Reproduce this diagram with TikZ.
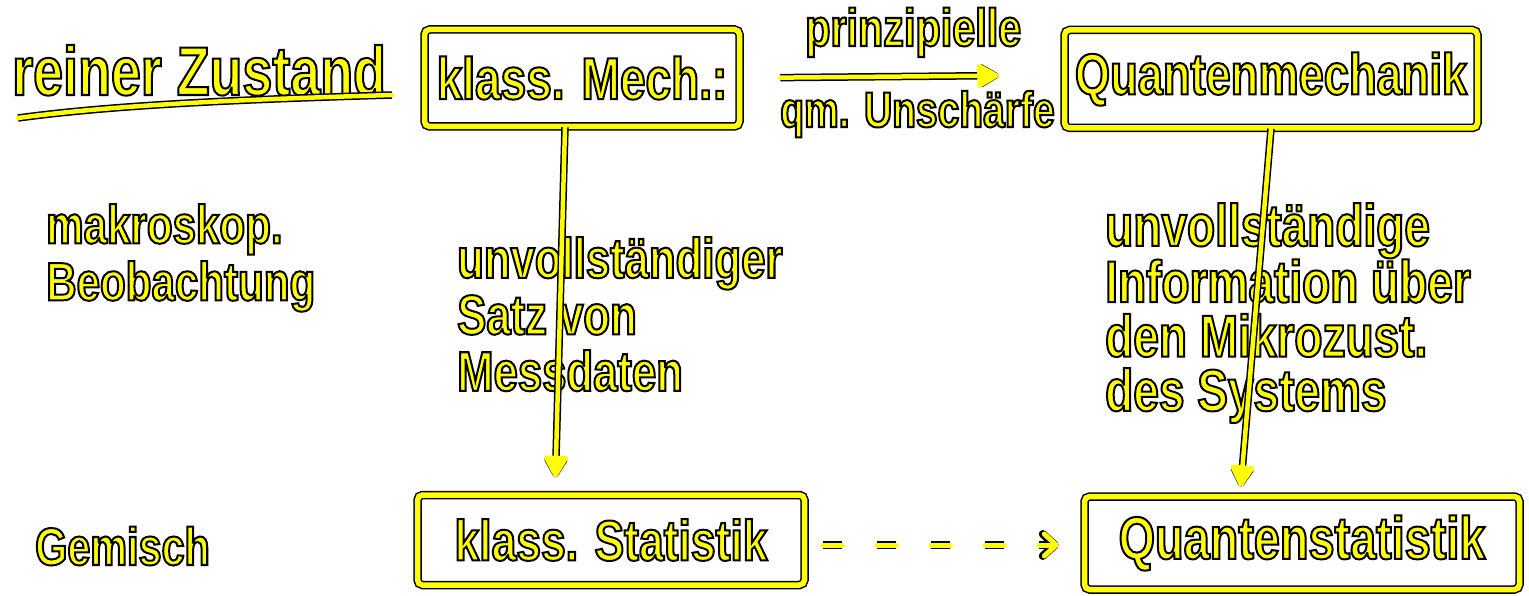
\documentclass[tikz,border=0pt]{standalone}
\usepackage{fontspec}
\usetikzlibrary{arrows.meta}
\newfontfamily\hand{Liberation Sans Bold}[FakeStretch=0.78]
\definecolor{hy}{RGB}{255,255,0}
\newcommand\ON{\special{pdf:literal direct 0 0 0 RG 2 Tr 2 w}}
\newcommand\OFF{\special{pdf:literal direct 0 Tr}}
\newcommand\T[2]{{\fontsize{#1}{#1}\selectfont\ON#2\OFF}}
\tikzset{
  txt/.style={text=hy, inner sep=0pt, font=\hand},
  blk/.style 2 args={txt, align=left, anchor=north west, font={\hand\fontsize{#1}{#2}\selectfont}},
  box/.style={txt, draw=black, double=hy, double distance=5.5pt, line width=1.5pt, rounded corners=5pt},
  ink/.style={draw=hy, line width=4.5pt, line cap=round, line join=round,
              preaction={draw=black, line width=7.5pt}},
  arr/.style={draw=hy, line width=4.5pt, line cap=round, line join=round,
              -{Triangle[length=24pt,width=26pt,round]},
              preaction={draw=black, line width=7.5pt, -{Triangle[length=24pt,width=26pt,round]}}},
  dsh/.style={draw=hy, line width=5pt, line cap=round, line join=round,
              dash pattern=on 19pt off 35pt,
              -{Straight Barb[length=12pt,width=22pt,round]},
              preaction={draw=black, line width=8pt, dash pattern=on 19pt off 35pt,
                         -{Straight Barb[length=12pt,width=22pt,round]}}}
}
\begin{document}
\begin{tikzpicture}[x=1pt,y=-1pt]
\useasboundingbox (0,0) rectangle (1529,596);
% boxes
\node[box, minimum width=315pt, minimum height=97pt] (mech) at (582,78) {\T{59}{klass. Mech.:}};
\node[box, minimum width=413pt, minimum height=98pt] (qm) at (1271,79) {\T{58}{Quantenmechanik}};
\node[box, minimum width=387pt, minimum height=90pt] (stat) at (611,540) {\T{57}{klass. Statistik}};
\node[box, minimum width=435pt, minimum height=93pt] (qs) at (1302,543) {\T{60}{Quantenstatistik}};
% free texts
\node[txt, anchor=base west] (rz) at (12,95) {\T{69}{reiner Zustand}};
\node[txt, anchor=base west] (pz) at (805,46) {\T{53}{prinzipielle}};
\node[txt, anchor=base west] (qmu) at (780,127) {\T{50}{qm. Unschärfe}};
\node[blk={54}{57}] (mk) at (46,204) {\ON makroskop.\\Beobachtung\OFF};
\node[blk={56}{56.5}] (mid) at (457,237) {\ON unvollständiger\\Satz von\\Messdaten\OFF};
\node[blk={59}{54.3}] (rgt) at (1105,203) {\ON unvollständige\\Information über\\den Mikrozust.\\des Systems\OFF};
\node[txt, anchor=base west] (gm) at (35,565) {\T{53}{Gemisch}};
% underline
\draw[ink] (18,118) .. controls (120,104) and (260,99) .. (392,95);
% connectors
\draw[arr, shorten >=17pt]
  ([xshift=-17pt]mech.south) -- ([xshift=-56pt]stat.north);
\draw[arr, shorten >=9pt]
  (qm.south) -- ([xshift=-62pt]qs.north);
\draw[arr, shorten <=40pt, shorten >=65pt]
  (mech.east) -- ([yshift=4pt]qm.west);
\draw[dsh, shorten <=18pt, shorten >=25pt]
  ([yshift=-5pt]stat.east) -- ([yshift=-2pt]qs.west);
\end{tikzpicture}
\end{document}
